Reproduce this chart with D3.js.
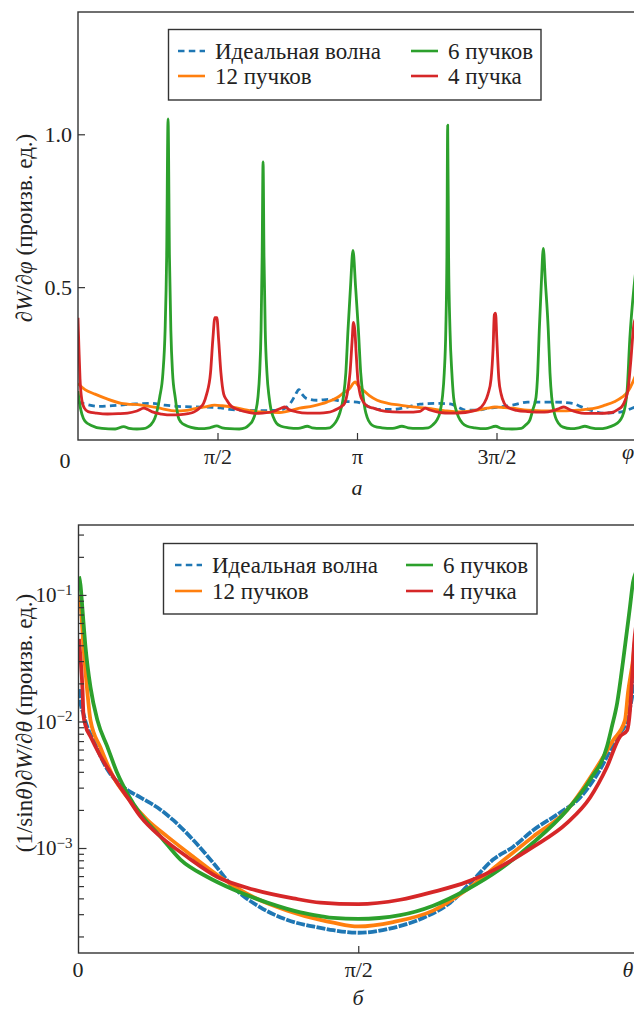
<!DOCTYPE html>
<html>
<head>
<meta charset="utf-8">
<script src="https://cdn.jsdelivr.net/npm/d3@7"></script>
<style>
  body { margin: 0; background: #fff; }
  svg { display: block; }
  svg text { font-family: "Liberation Serif", "Tinos", "DejaVu Serif", "Noto Serif", "Times New Roman", serif; fill: #222; }
</style>
</head>
<body>
<svg id="chart" width="634" height="1012"></svg>
<script>
// ---------- series names ----------
const seriesNames = ["Идеальная волна", "12 пучков", "6 пучков", "4 пучка"];

// ---------- panel (а): dW/dφ versus φ, φ in degrees ----------
const phiIdeal = [[0,0.124],[4.5,0.118],[13,0.11],[26,0.114],[37,0.118],[46.5,0.12],[56,0.114],[64.5,0.11],[75.5,0.108],[86.5,0.107],[92,0.105],[98,0.1],[108,0.097],[120,0.096],[130,0.098],[134,0.105],[137,0.12],[140,0.145],[142.5,0.165],[144.5,0.15],[147,0.137],[154,0.13],[162.6,0.133],[170,0.127],[180,0.124],[188,0.108],[195,0.1],[203,0.1],[212,0.107],[220.7,0.117],[231.6,0.12],[240,0.118],[245,0.108],[250,0.098],[258,0.098],[264.5,0.104],[272,0.108],[280,0.114],[290,0.124],[308,0.124],[319,0.12],[323,0.112],[327,0.104],[333,0.094],[338,0.088],[348,0.09],[354,0.097],[357.4,0.104],[360,0.108]];

const phi12 = [[0,0.185],[4.5,0.165],[11,0.15],[17.4,0.137],[28,0.12],[41,0.114],[54,0.103],[62.6,0.095],[70,0.097],[75.5,0.103],[82,0.108],[88,0.114],[93,0.112],[99,0.108],[112,0.095],[117,0.092],[130,0.09],[143,0.104],[152,0.112],[160.6,0.124],[167,0.138],[171,0.153],[175.5,0.17],[177.5,0.185],[178.8,0.19],[180.5,0.18],[184,0.163],[188,0.145],[193,0.13],[200,0.12],[207.7,0.114],[216,0.108],[225,0.104],[238,0.095],[245,0.092],[258,0.098],[264,0.104],[269,0.108],[275,0.106],[280,0.104],[290,0.098],[308,0.095],[322.6,0.098],[333.6,0.104],[340,0.114],[346,0.125],[351,0.14],[355,0.16],[358,0.19],[360,0.215]];

const phi6 = [[0,0.16],[1,0.12],[2.5,0.085],[4.5,0.062],[9,0.047],[15.5,0.038],[24,0.036],[29.5,0.044],[33,0.038],[38,0.036],[42,0.037],[45,0.042],[47,0.05],[49.5,0.07],[51,0.095],[52.7,0.14],[54.8,0.22],[56.2,0.36],[57.2,0.6],[58.1,1.05],[59,0.6],[59.9,0.36],[61,0.22],[62.7,0.14],[63.8,0.1],[64.7,0.075],[66.5,0.058],[69,0.049],[73,0.041],[78,0.037],[85,0.04],[89.5,0.046],[93,0.04],[98,0.037],[104,0.036],[108,0.04],[110.5,0.05],[112.5,0.062],[114.5,0.09],[116.1,0.14],[117.2,0.22],[118.1,0.36],[118.8,0.6],[119.4,0.91],[120,0.6],[120.8,0.36],[121.9,0.22],[123.3,0.14],[124.5,0.1],[126,0.075],[128,0.055],[131,0.045],[136,0.04],[142,0.038],[148,0.045],[151,0.04],[157,0.038],[162.5,0.04],[165,0.05],[167,0.065],[169,0.09],[171.2,0.14],[172.8,0.22],[174.2,0.36],[175.8,0.5],[177.4,0.62],[179.1,0.5],[180.9,0.36],[182.4,0.22],[184,0.14],[185.2,0.1],[186.5,0.075],[188.5,0.055],[191,0.045],[196,0.04],[203,0.038],[209,0.045],[213,0.04],[219,0.038],[226,0.04],[229,0.05],[231.5,0.065],[233.5,0.09],[235.1,0.14],[236.3,0.22],[237.3,0.36],[238,0.6],[238.5,1.03],[239.1,0.6],[240,0.36],[241.2,0.22],[242.3,0.14],[243.8,0.1],[245.5,0.075],[248,0.055],[251,0.045],[256,0.04],[263,0.037],[269.5,0.045],[273,0.038],[280,0.036],[286,0.038],[289,0.05],[291.5,0.065],[293.5,0.1],[295.5,0.14],[296.6,0.22],[297.6,0.36],[299,0.52],[300.2,0.627],[301.5,0.52],[303.4,0.36],[304.5,0.22],[305.6,0.14],[306.8,0.1],[308,0.075],[310,0.055],[313,0.042],[318,0.037],[323,0.04],[327,0.045],[331,0.04],[336,0.037],[341,0.04],[346,0.049],[349,0.06],[351,0.075],[353,0.11],[354.3,0.163],[356,0.33],[358.7,0.5],[360,0.56]];

const phi4 = [[0,0.40],[0.6,0.3],[1.3,0.2],[2.5,0.13],[4,0.105],[6.5,0.093],[12,0.088],[19,0.085],[26,0.086],[32,0.088],[38,0.095],[42.5,0.104],[45,0.1],[48,0.092],[54,0.085],[60.6,0.082],[66,0.083],[71,0.086],[75,0.092],[78.5,0.105],[81,0.12],[83,0.15],[85.5,0.22],[87,0.33],[88.3,0.40],[89.6,0.40],[90.7,0.33],[92.2,0.22],[94,0.15],[96,0.13],[99,0.11],[104,0.098],[110,0.09],[114,0.087],[119,0.088],[127,0.095],[131,0.104],[133.5,0.108],[136,0.1],[141,0.092],[148,0.088],[156,0.088],[161,0.09],[164.5,0.095],[167.5,0.102],[170,0.11],[172,0.12],[174,0.16],[175.5,0.22],[176.8,0.32],[177.7,0.385],[178.6,0.36],[179.5,0.28],[180.5,0.2],[182,0.15],[184,0.125],[187,0.11],[190,0.105],[195,0.097],[203,0.092],[212,0.091],[220.7,0.094],[224,0.104],[227,0.098],[233.6,0.09],[240,0.088],[250,0.09],[255,0.095],[258,0.1],[262,0.12],[264.5,0.15],[266.5,0.2],[267.8,0.3],[268.6,0.41],[269.4,0.415],[270.2,0.33],[271.5,0.2],[273,0.15],[275,0.12],[278,0.105],[283,0.097],[290,0.093],[301,0.091],[306,0.095],[310,0.102],[313.5,0.108],[317,0.1],[322,0.091],[327,0.087],[335,0.087],[344.5,0.09],[348.5,0.1],[351,0.11],[353,0.13],[355,0.17],[356.5,0.25],[358.7,0.38],[360,0.40]];

const phiTickValues = [90, 180, 270];
const phiTickLabels = ["π/2", "π", "3π/2"];
const dwTickValues = [0.5, 1.0];

// ---------- panel (б): (1/sinθ) dW/dθ versus θ, θ in degrees ----------
const thetaIdeal = [[0.16,0.018],[0.64,0.0141],[1.6,0.0115],[2.25,0.0100],[4.8,0.0071],[9.3,0.00417],[14.5,0.00302],[19.9,0.00251],[25.4,0.00209],[30.5,0.00166],[37,0.00115],[43.4,7.6e-4],[49.8,4.9e-4],[58.5,3.4e-4],[67.2,2.7e-4],[77.8,2.34e-4],[82,2.24e-4],[90,2.14e-4],[101.25,2.34e-4],[112.2,2.9e-4],[119.6,3.7e-4],[127,5.6e-4],[133.4,8.1e-4],[139.8,1.02e-3],[146.25,1.38e-3],[155,1.91e-3],[161.4,2.51e-3],[167.8,4.17e-3],[173.3,7.6e-3],[176.5,0.0102],[178.4,0.017],[179.3,0.022],[180,0.026]];

const theta12 = [[0.16,0.10],[0.64,0.087],[1.6,0.0389],[2.9,0.0166],[3.86,0.0102],[7.1,0.0062],[11.25,0.00363],[15.75,0.00251],[22.2,0.00166],[28.6,0.00123],[37,8.5e-4],[45.6,5.9e-4],[56.2,4.1e-4],[67.2,3.2e-4],[77.8,2.7e-4],[82,2.57e-4],[90,2.4e-4],[101.25,2.6e-4],[114.1,3.2e-4],[125,4.7e-4],[135.6,7.6e-4],[146.25,1.23e-3],[157.2,2.0e-3],[165.5,3.89e-3],[172,7.1e-3],[175.8,0.0102],[176.8,0.017],[178.4,0.031],[179.3,0.05],[180,0.06]];

const theta6 = [[0.16,0.14],[0.64,0.12],[1.29,0.076],[2.25,0.0389],[3.86,0.0186],[6.1,0.0102],[9.3,0.0063],[12.5,0.00389],[15.75,0.00269],[19.9,0.00186],[26.4,0.00123],[32.8,8.1e-4],[41.5,5.9e-4],[49.8,4.7e-4],[60.75,3.7e-4],[71.4,3.1e-4],[77.8,2.9e-4],[82,2.8e-4],[90,2.75e-4],[103.5,2.95e-4],[114.1,3.5e-4],[125,4.7e-4],[135.6,6.8e-4],[146.25,1.10e-3],[157.2,2.0e-3],[164.6,3.47e-3],[170,6.3e-3],[171.6,0.0091],[173.3,0.014],[175.2,0.03],[177.4,0.08],[178.4,0.126],[179.3,0.15],[180,0.16]];

const theta4 = [[0.16,0.045],[0.64,0.032],[1.29,0.0178],[1.6,0.0112],[2.25,0.0093],[3.86,0.0076],[7.1,0.0053],[11.25,0.00363],[15.75,0.00251],[19.9,0.00178],[26.4,0.00123],[35,8.5e-4],[44.7,5.9e-4],[56.2,4.7e-4],[69.1,4.0e-4],[77.8,3.7e-4],[90,3.6e-4],[103.5,3.9e-4],[114.1,4.5e-4],[125,5.4e-4],[135.6,7.1e-4],[146.25,1.02e-3],[157.2,1.58e-3],[164.6,2.51e-3],[170,4.37e-3],[174.2,7.6e-3],[176.5,0.0085],[177.4,0.012],[178,0.02],[178.7,0.04],[179.5,0.06],[180,0.07]];

const thetaTickValues = [90];
const thetaTickLabels = ["π/2"];
const decadeTicks = [1e-3, 1e-2, 1e-1];

// ---------- styling ----------
const colors = ["#1f77b4", "#ff7f0e", "#2ca02c", "#d62728"];
const ink = "#333";
const serif = "'Liberation Serif', 'Tinos', 'DejaVu Serif', 'Noto Serif', 'Times New Roman', serif";
const svg = d3.select("#chart");

function styleAxis(g, size) {
  g.attr("font-family", null).attr("font-size", null);
  g.select(".domain").remove();
  g.selectAll(".tick line").attr("stroke", ink).attr("stroke-width", 1.2);
  g.selectAll("text")
    .style("font-family", serif)
    .attr("fill", "#222")
    .style("font-size", size + "px");
}

function label(x, y, str, size, italic) {
  return svg.append("text").attr("x", x).attr("y", y).attr("text-anchor", "middle")
    .style("font-family", serif).style("font-size", size + "px")
    .style("font-style", italic ? "italic" : "normal").text(str);
}

function legend(box, rowBase, col1, col2) {
  const g = svg.append("g");
  g.append("rect")
    .attr("x", box[0]).attr("y", box[1]).attr("width", box[2]).attr("height", box[3])
    .attr("fill", "#fff").attr("stroke", ink).attr("stroke-width", 1.4);
  const slots = [[col1, 0], [col1, 1], [col2, 0], [col2, 1]];
  seriesNames.forEach((name, i) => {
    const [cx, row] = slots[i];
    const yb = rowBase[row];
    g.append("line")
      .attr("x1", cx).attr("x2", cx + 27).attr("y1", yb - 8).attr("y2", yb - 8)
      .attr("stroke", colors[i]).attr("stroke-width", 2.6)
      .attr("stroke-dasharray", i === 0 ? "6.5,4.3" : null);
    g.append("text").attr("x", cx + 37).attr("y", yb)
      .style("font-family", serif).style("font-size", "23px").text(name);
  });
}

// ================= panel а =================
const A = { l: 78, r: 636, t: 12, b: 440 };
const xA = d3.scaleLinear().domain([0, 360]).range([A.l, A.r]);
const yA = d3.scaleLinear().domain([0, 1.4]).range([A.b, A.t]);

svg.append("clipPath").attr("id", "clipA").append("rect")
  .attr("x", A.l).attr("y", A.t).attr("width", A.r - A.l).attr("height", A.b - A.t);

const lineA = d3.line().x(d => xA(d[0])).y(d => yA(d[1])).curve(d3.curveMonotoneX);
const gA = svg.append("g").attr("clip-path", "url(#clipA)");
[phiIdeal, phi12, phi6, phi4].forEach((s, i) => {
  gA.append("path").datum(s).attr("d", lineA)
    .attr("fill", "none").attr("stroke", colors[i])
    .attr("stroke-width", 2.8).attr("stroke-linejoin", "round")
    .attr("stroke-dasharray", i === 0 ? "6.5,4.3" : null);
});

svg.append("rect").attr("x", A.l).attr("y", A.t).attr("width", A.r - A.l).attr("height", A.b - A.t)
  .attr("fill", "none").attr("stroke", ink).attr("stroke-width", 1.4);

svg.append("g").attr("transform", `translate(0,${A.b})`)
  .call(d3.axisBottom(xA).tickValues(phiTickValues).tickSize(-7).tickPadding(8)
    .tickFormat((d, i) => phiTickLabels[i]))
  .call(g => styleAxis(g, 22));

svg.append("g").attr("transform", `translate(${A.l},0)`)
  .call(d3.axisLeft(yA).tickValues(dwTickValues).tickSize(-7).tickPadding(6)
    .tickFormat(d3.format(".1f")))
  .call(g => styleAxis(g, 22));

label(65, 468, "0", 22, false);
label(628, 459, "φ", 22, true);
label(357, 495, "а", 22, true);

const labA = svg.append("text")
  .attr("transform", "translate(32,228) rotate(-90)")
  .attr("text-anchor", "middle").style("font-family", serif).style("font-size", "23px");
labA.append("tspan").text("∂");
labA.append("tspan").style("font-style", "italic").text("W");
labA.append("tspan").text("/∂");
labA.append("tspan").style("font-style", "italic").text("φ");
labA.append("tspan").text(" (произв. ед.)");

legend([168.5, 29.5, 372.5, 70.5], [59, 84], 178, 411);

// ================= panel б =================
const B = { l: 78.5, r: 638, t: 525, b: 953 };
const xB = d3.scaleLinear().domain([0, 180]).range([B.l, B.r]);
const yB = d3.scaleLog().domain([1.48e-4, 0.357]).range([B.b, B.t]);

svg.append("clipPath").attr("id", "clipB").append("rect")
  .attr("x", B.l).attr("y", B.t).attr("width", B.r - B.l).attr("height", B.b - B.t);

const lineB = d3.line().x(d => xB(d[0])).y(d => yB(d[1])).curve(d3.curveMonotoneX);
const gB = svg.append("g").attr("clip-path", "url(#clipB)");
[thetaIdeal, theta12, theta6, theta4].forEach((s, i) => {
  gB.append("path").datum(s).attr("d", lineB)
    .attr("fill", "none").attr("stroke", colors[i])
    .attr("stroke-width", 3.8).attr("stroke-linejoin", "round")
    .attr("stroke-dasharray", i === 0 ? "9,1.4" : null);
});

svg.append("rect").attr("x", B.l).attr("y", B.t).attr("width", B.r - B.l).attr("height", B.b - B.t)
  .attr("fill", "none").attr("stroke", ink).attr("stroke-width", 1.4);

svg.append("g").attr("transform", `translate(0,${B.b})`)
  .call(d3.axisBottom(xB).tickValues(thetaTickValues).tickSize(-7).tickPadding(8)
    .tickFormat((d, i) => thetaTickLabels[i]))
  .call(g => styleAxis(g, 22));

// minor log ticks
const minorTicks = yB.ticks().filter(v => Math.abs(Math.log10(v) - Math.round(Math.log10(v))) > 1e-6);
svg.append("g").attr("transform", `translate(${B.l},0)`)
  .call(d3.axisLeft(yB).tickValues(minorTicks).tickSize(-5.5).tickFormat(""))
  .call(g => styleAxis(g, 20));

const yAxisB = svg.append("g").attr("transform", `translate(${B.l},0)`)
  .call(d3.axisLeft(yB).tickValues(decadeTicks).tickSize(-8).tickPadding(6).tickFormat(""))
  .call(g => styleAxis(g, 21));
yAxisB.selectAll(".tick text").each(function (d) {
  const t = d3.select(this);
  const e = Math.round(Math.log10(d));
  t.append("tspan").text("10");
  t.append("tspan").attr("dy", "-0.5em").style("font-size", "15px").text("−" + Math.abs(e));
});

label(78, 977, "0", 22, false);
label(628, 977, "θ", 22, true);
label(358, 1005, "б", 22, true);

const labB = svg.append("text")
  .attr("transform", "translate(32,723) rotate(-90)")
  .attr("text-anchor", "middle").style("font-family", serif).style("font-size", "23px");
labB.append("tspan").text("(1/sin");
labB.append("tspan").style("font-style", "italic").text("θ");
labB.append("tspan").text(")∂");
labB.append("tspan").style("font-style", "italic").text("W");
labB.append("tspan").text("/∂");
labB.append("tspan").style("font-style", "italic").text("θ");
labB.append("tspan").text(" (произв. ед.)");

legend([163.5, 543.5, 373.5, 70.5], [573, 599], 175, 406);
</script>
</body>
</html>
